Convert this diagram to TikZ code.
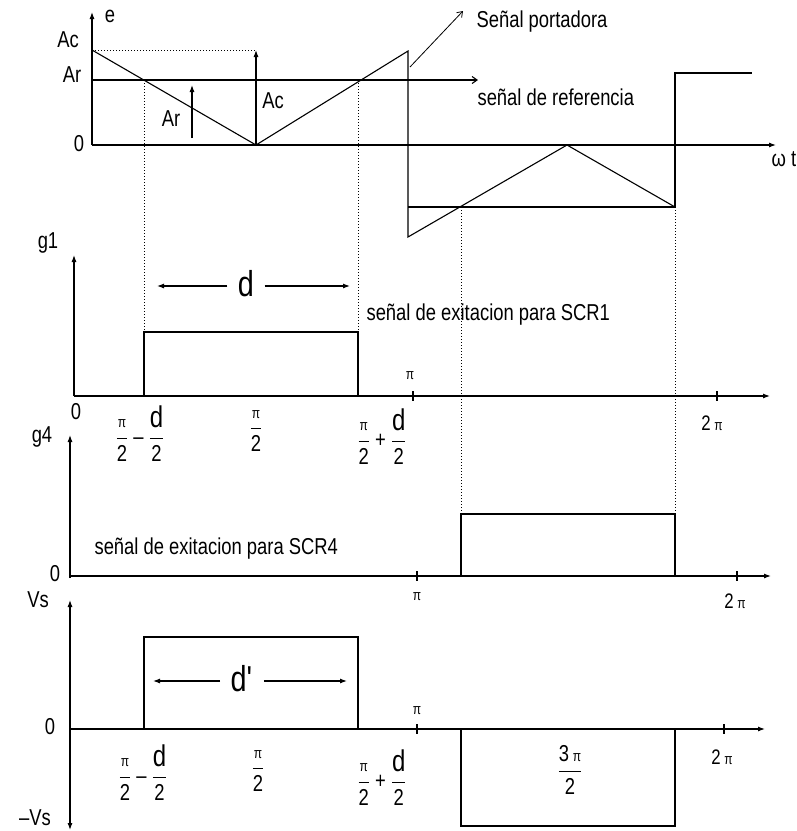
\documentclass[tikz,border=0pt]{standalone}
\usepackage{amsmath}
\usepackage{fontspec}
\setmainfont{Liberation Sans}[FakeStretch=0.8]
\usetikzlibrary{arrows.meta}

\newcommand\sm{\fontsize{15}{15}\selectfont}
\newcommand\bigd{\fontsize{30}{30}\selectfont d}
\newcommand\fr[2]{\ensuremath{\genfrac{}{}{0.8pt}{0}{\mbox{#1}}{\mbox{#2}}}}

\begin{document}
\begin{tikzpicture}[x=1pt, y=-1pt, >={Latex[length=7pt,width=5pt]}, line width=1.1pt,
  lbl/.style={inner sep=1pt, font=\fontsize{23}{25}\selectfont},
  dospi/.style={inner sep=1pt, font=\fontsize{21}{21}\selectfont},
  dlbl/.style={inner sep=1pt, inner xsep=10pt, font=\fontsize{36}{36}\selectfont},
  axis/.style={->},
  pointer/.style={-{Straight Barb[length=5pt,width=7pt]}, line width=0.8pt},
  guide/.style={dotted, line width=1pt},
  tick/.style={inner sep=0pt, font=\sm}]

  \useasboundingbox (0,0) rectangle (797,831);

  % senal portadora y de referencia
  \draw [axis] (92,145) -- (92,12);
  \draw [axis] (92,145) -- (776,145);
  \node [lbl] (e) at (110,16) {e};
  \node [lbl] (wt) at (784,159) {ω t};
  \node [lbl] (ac) at (68,40) {Ac};
  \node [lbl] (ar) at (72,75) {Ar};
  \node [lbl] (cero) at (79,144) {0};
  \draw (92,50) -- (256,145) -- (408,51) -- (408,237) -- (567,145) -- (675,207);
  \draw [pointer, line width=1.1pt] (92,80) -- (478,80);
  \draw (408,207) -- (675,207) -- (675,73) -- (752,73);
  \draw [guide] (92,50) -- (256,50);
  \draw [->] (256,145) -- (256,50);
  \draw [->] (192,138) -- (192,85);
  \node [lbl] (acv) at (273,101) {Ac};
  \node [lbl] (arv) at (171,119) {Ar};
  \node [lbl, anchor=west] (portadora) at (475,22) {Señal portadora};
  \node [lbl, anchor=west] (referencia) at (476,97) {señal de referencia};
  \coordinate (pp) at (410,67);
  \draw [pointer] (pp) -- ([shift={(-12,-11)}]portadora.west);

  % lineas de corte
  \draw [guide] (144,80) -- (144,332);
  \draw [guide] (358,80) -- (358,332);
  \draw [guide] (461,207) -- (461,514);
  \draw [guide] (675,207) -- (675,514);

  % g1
  \draw [axis] (74,396) -- (74,255);
  \draw [axis] (74,396) -- (770,396);
  \foreach \x in {413,717} \draw (\x,391) -- (\x,401);
  \node [lbl] (g1) at (48,243) {g1};
  \node [tick] (pi1) at (410,376) {π};
  \node [dospi] (dpi1) at (712,423) {2\,{\sm π}};
  \draw (144,396) -- (144,332) -- (358,332) -- (358,396);
  \node [dlbl] (d1) at (246,284) {d};
  \draw [->] (d1.west |- 0,286) -- (157,286);
  \draw [->] (d1.east |- 0,286) -- (350,286);
  \node [lbl, anchor=west] (scr1) at (365,315) {señal de exitacion para SCR1};
  \node [lbl] (cero1) at (76,412) {0};
  \node [lbl] (f1) at (140,434) {\fr{\sm π}{2} – \fr{\bigd}{2}};
  \node [lbl] (f2) at (256,431) {\fr{\sm π}{2}};
  \node [lbl] (f3) at (382,437) {\fr{\sm π}{2} + \fr{\bigd}{2}};

  % g4
  \draw [axis] (70,578) -- (70,435);
  \draw [axis] (70,576) -- (771,576);
  \foreach \x in {417,737} \draw (\x,571) -- (\x,581);
  \node [lbl] (g4) at (42,437) {g4};
  \node [lbl] (cero4) at (55,574) {0};
  \node [tick] (pi4) at (417,597) {π};
  \node [dospi] (dpi4) at (735,601) {2\,{\sm π}};
  \draw (461,576) -- (461,514) -- (675,514) -- (675,576);
  \node [lbl, anchor=west] (scr4) at (93,549) {señal de exitacion para SCR4};

  % Vs
  \draw [<->] (70,600) -- (70,830);
  \draw [axis] (70,729) -- (765,729);
  \foreach \x in {417,724} \draw (\x,724) -- (\x,734);
  \node [lbl] (vs) at (38,600) {Vs};
  \node [lbl] (mvs) at (35,818) {–Vs};
  \node [lbl] (cerov) at (50,727) {0};
  \node [tick] (piv) at (417,711) {π};
  \node [dospi] (dpiv) at (722,757) {2\,{\sm π}};
  \draw (144,729) -- (144,637) -- (358,637) -- (358,729);
  \draw (461,729) -- (461,826) -- (675,826) -- (675,729);
  \node [dlbl] (d2) at (242,679) {d\textquotesingle};
  \draw [->] (d2.west |- 0,681) -- (153,681);
  \draw [->] (d2.east |- 0,681) -- (347,681);
  \node [lbl] (f4) at (143,773) {\fr{\sm π}{2} – \fr{\bigd}{2}};
  \node [lbl] (f5) at (258,771) {\fr{\sm π}{2}};
  \node [lbl] (f6) at (382,778) {\fr{\sm π}{2} + \fr{\bigd}{2}};
  \node [lbl] (f7) at (570,770) {\fr{3\,{\sm π}}{2}};
\end{tikzpicture}
\end{document}
